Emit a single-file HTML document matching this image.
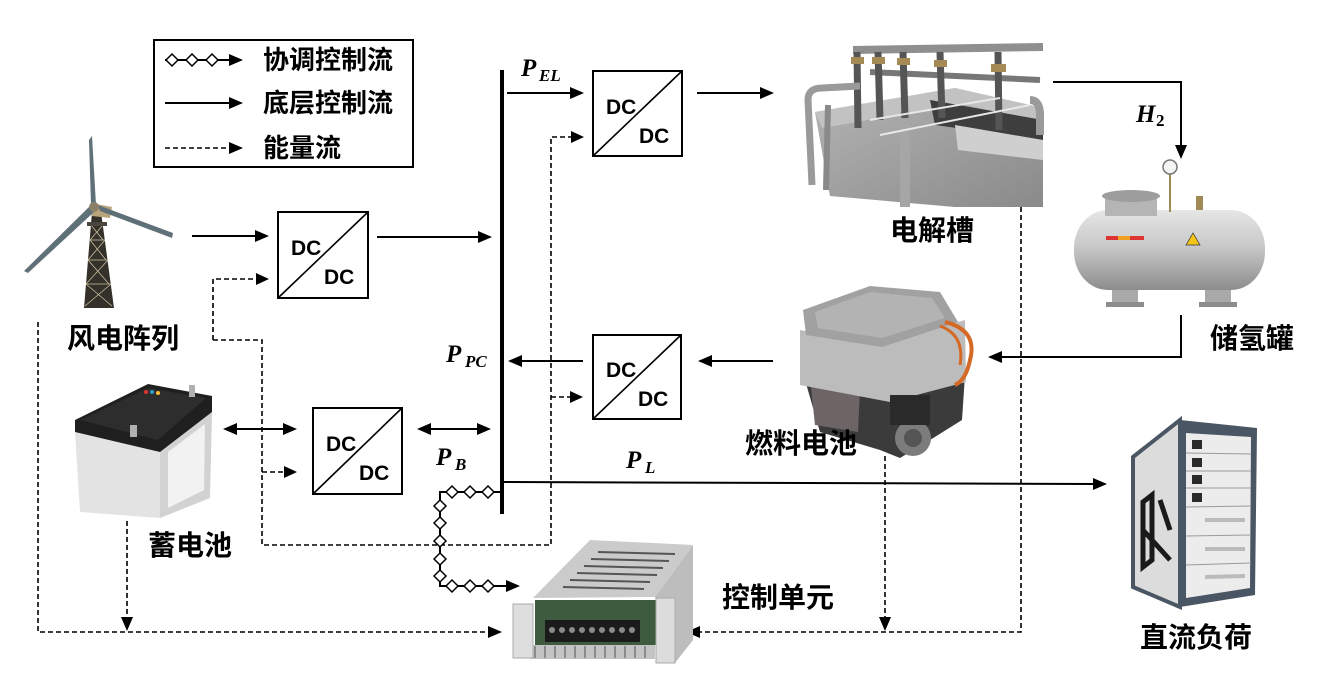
<!DOCTYPE html>
<html><head><meta charset="utf-8">
<style>
html,body{margin:0;padding:0;background:#fff;}
svg{display:block;}
.cj{font-family:"Liberation Sans","Noto Sans CJK SC",sans-serif;font-weight:700;}
.dc{font-family:"Liberation Sans",sans-serif;font-weight:700;font-size:21px;}
.p{font-family:"Liberation Serif",serif;font-weight:700;font-style:italic;}
</style></head><body>
<svg width="1317" height="684" viewBox="0 0 1317 684" xmlns="http://www.w3.org/2000/svg">
<defs>
<linearGradient id="tankg" x1="0" y1="0" x2="0" y2="1">
<stop offset="0" stop-color="#e6e6e6"/><stop offset="0.45" stop-color="#c9c9c9"/><stop offset="1" stop-color="#8c8c8c"/>
</linearGradient>
<linearGradient id="elg" x1="0" y1="0" x2="1" y2="1">
<stop offset="0" stop-color="#b4b4b4"/><stop offset="1" stop-color="#8a8a8a"/>
</linearGradient>
</defs>
<rect width="1317" height="684" fill="#fff"/>

<!-- ===== Legend ===== -->
<rect x="154" y="40" width="259" height="127" fill="none" stroke="#000" stroke-width="2"/>
<line x1="165" y1="60" x2="230" y2="60" stroke="#000" stroke-width="2"/>
<g fill="#fff" stroke="#000" stroke-width="1.5">
<path d="M166,60 L172,54 L178,60 L172,66 Z"/>
<path d="M186,60 L192,54 L198,60 L192,66 Z"/>
<path d="M206,60 L212,54 L218,60 L212,66 Z"/>
</g>
<polygon points="229,54 243,60 229,66" fill="#000"/>
<line x1="165" y1="103" x2="230" y2="103" stroke="#000" stroke-width="2"/>
<polygon points="229,97 243,103 229,109" fill="#000"/>
<line x1="165" y1="148" x2="230" y2="148" stroke="#000" stroke-width="1.6" stroke-dasharray="5,3"/>
<polygon points="229,142 243,148 229,154" fill="#000"/>
<text class="cj" x="263" y="69" font-size="26">协调控制流</text>
<text class="cj" x="263" y="112" font-size="26">底层控制流</text>
<text class="cj" x="263" y="157" font-size="26">能量流</text>

<!-- ===== Wind turbine ===== -->
<g>
<polygon points="92,212 101,212 114,308 84,308" fill="#34302a"/>
<g stroke="#cbbf9f" stroke-width="0.8">
<line x1="91" y1="225" x2="103" y2="240"/><line x1="103" y1="225" x2="90" y2="240"/>
<line x1="90" y1="240" x2="106" y2="260"/><line x1="105" y1="240" x2="88" y2="260"/>
<line x1="88" y1="260" x2="109" y2="284"/><line x1="108" y1="260" x2="86" y2="284"/>
<line x1="86" y1="284" x2="112" y2="306"/><line x1="111" y1="284" x2="85" y2="306"/>
<line x1="90" y1="240" x2="105" y2="240"/><line x1="88" y1="260" x2="108" y2="260"/><line x1="86" y1="284" x2="111" y2="284"/>
</g>
<rect x="87" y="222" width="20" height="4" fill="#4a463e"/>
<polygon points="91,203 112,207 110,218 92,216" fill="#b9a57a"/>
<polygon points="91,205 89,140 92,136 96,205" fill="#5f7078"/>
<polygon points="90,206 94,212 28,273 24,271" fill="#5f7078"/>
<polygon points="98,205 100,211 172,238 173,233" fill="#5f7078"/>
<circle cx="94" cy="207" r="5" fill="#8a806a"/>
</g>
<text class="cj" x="67" y="348" font-size="28">风电阵列</text>

<!-- ===== Battery ===== -->
<g>
<polygon points="75,432 160,452 160,518 80,512" fill="#e3e3e3"/>
<polygon points="160,452 212,412 210,498 160,518" fill="#d2d2d2"/>
<polygon points="168,452 205,424 204,490 168,508" fill="#f2f2f2"/>
<polygon points="75,420 148,384 212,396 212,412 160,452 75,432" fill="#1f1f1f"/>
<polygon points="80,420 148,388 206,398 158,440" fill="#2d2d2d"/>
<rect x="130" y="425" width="7" height="12" fill="#b0b0b0"/>
<rect x="189" y="385" width="6" height="12" fill="#b0b0b0"/>
<circle cx="146" cy="392" r="2" fill="#d33"/><circle cx="152" cy="392" r="2" fill="#39c"/><circle cx="158" cy="393" r="2" fill="#fb3"/>
</g>
<text class="cj" x="148" y="555" font-size="28">蓄电池</text>

<!-- ===== DC/DC box 1 (wind) ===== -->
<rect x="278" y="212" width="90" height="86" fill="#fff" stroke="#000" stroke-width="2"/>
<line x1="278" y1="298" x2="368" y2="212" stroke="#000" stroke-width="1.6"/>
<text class="dc" x="291" y="255">DC</text>
<text class="dc" x="324" y="284">DC</text>
<line x1="192" y1="236" x2="256" y2="236" stroke="#000" stroke-width="2"/>
<polygon points="255,230 269,236 255,242" fill="#000"/>
<line x1="377" y1="237" x2="480" y2="237" stroke="#000" stroke-width="2"/>
<polygon points="478,231 492,237 478,243" fill="#000"/>

<!-- ===== DC/DC box battery ===== -->
<rect x="313" y="408" width="89" height="86" fill="#fff" stroke="#000" stroke-width="2"/>
<line x1="313" y1="494" x2="402" y2="408" stroke="#000" stroke-width="1.6"/>
<text class="dc" x="326" y="451">DC</text>
<text class="dc" x="359" y="480">DC</text>
<line x1="235" y1="429" x2="285" y2="429" stroke="#000" stroke-width="2"/>
<polygon points="237,423 223,429 237,435" fill="#000"/>
<polygon points="283,423 297,429 283,435" fill="#000"/>
<line x1="429" y1="429" x2="479" y2="429" stroke="#000" stroke-width="2"/>
<polygon points="431,423 417,429 431,435" fill="#000"/>
<polygon points="477,423 491,429 477,435" fill="#000"/>

<!-- ===== DC/DC box EL ===== -->
<rect x="593" y="71" width="89" height="85" fill="#fff" stroke="#000" stroke-width="2"/>
<line x1="593" y1="156" x2="682" y2="71" stroke="#000" stroke-width="1.6"/>
<text class="dc" x="606" y="114">DC</text>
<text class="dc" x="639" y="143">DC</text>
<line x1="507" y1="93" x2="572" y2="93" stroke="#000" stroke-width="2"/>
<polygon points="570,87 584,93 570,99" fill="#000"/>
<line x1="697" y1="93" x2="762" y2="93" stroke="#000" stroke-width="2"/>
<polygon points="760,87 774,93 760,99" fill="#000"/>

<!-- ===== DC/DC box FC ===== -->
<rect x="593" y="335" width="88" height="84" fill="#fff" stroke="#000" stroke-width="2"/>
<line x1="593" y1="419" x2="681" y2="335" stroke="#000" stroke-width="1.6"/>
<text class="dc" x="606" y="377">DC</text>
<text class="dc" x="638" y="406">DC</text>
<line x1="520" y1="361" x2="583" y2="361" stroke="#000" stroke-width="2"/>
<polygon points="522,355 508,361 522,367" fill="#000"/>
<line x1="710" y1="361" x2="773" y2="361" stroke="#000" stroke-width="2"/>
<polygon points="712,355 698,361 712,367" fill="#000"/>

<!-- ===== Bus ===== -->
<line x1="502" y1="70" x2="502" y2="514" stroke="#000" stroke-width="4"/>
<line x1="502" y1="482" x2="1094" y2="484" stroke="#000" stroke-width="2"/>
<polygon points="1093,478 1107,484 1093,490" fill="#000"/>

<!-- ===== P labels ===== -->
<text class="p" x="521" y="76" font-size="25">P</text><text class="p" x="539" y="81" font-size="17">EL</text>
<text class="p" x="446" y="362" font-size="25">P</text><text class="p" x="465" y="367" font-size="17">PC</text>
<text class="p" x="436" y="465" font-size="25">P</text><text class="p" x="455" y="470" font-size="17">B</text>
<text class="p" x="626" y="468" font-size="25">P</text><text class="p" x="645" y="473" font-size="17">L</text>
<text class="p" x="1136" y="122" font-size="25">H</text><text font-family="Liberation Serif,serif" font-weight="700" x="1156" y="126" font-size="17">2</text>

<!-- ===== Energy-flow dashed lines ===== -->
<g fill="none" stroke="#000" stroke-width="1.6" stroke-dasharray="5,3">
<path d="M213,340 L213,279 L256,279"/>
<path d="M213,340 L262,340 L262,545 L551,545 L551,137 L572,137"/>
<path d="M262,472 L285,472"/>
<path d="M551,397 L571,397"/>
<path d="M38,322 L38,632 L488,632"/>
<path d="M127,521 L127,618"/>
<path d="M1021,207 L1021,632 L700,632"/>
<path d="M885,456 L885,618"/>
</g>
<g fill="#000">
<polygon points="256,273 269,279 256,285"/>
<polygon points="284,466 297,472 284,478"/>
<polygon points="571,131 584,137 571,143"/>
<polygon points="570,391 583,397 570,403"/>
<polygon points="488,626 502,632 488,638"/>
<polygon points="121,617 127,631 133,617"/>
<polygon points="700,626 686,632 700,638"/>
<polygon points="879,617 885,631 891,617"/>
</g>

<!-- ===== Coordination control (diamonds) ===== -->
<path d="M502,492 L440,492 L440,586 L508,586" fill="none" stroke="#000" stroke-width="2"/>
<polygon points="506,580 520,586 506,592" fill="#000"/>
<g fill="#fff" stroke="#000" stroke-width="1.5">
<path d="M446,492 L452,486 L458,492 L452,498 Z"/>
<path d="M464,492 L470,486 L476,492 L470,498 Z"/>
<path d="M482,492 L488,486 L494,492 L488,498 Z"/>
<path d="M434,506 L440,500 L446,506 L440,512 Z"/>
<path d="M434,523 L440,517 L446,523 L440,529 Z"/>
<path d="M434,541 L440,535 L446,541 L440,547 Z"/>
<path d="M434,559 L440,553 L446,559 L440,565 Z"/>
<path d="M434,576 L440,570 L446,576 L440,582 Z"/>
<path d="M446,586 L452,580 L458,586 L452,592 Z"/>
<path d="M464,586 L470,580 L476,586 L470,592 Z"/>
<path d="M482,586 L488,580 L494,586 L488,592 Z"/>
</g>

<!-- ===== Electrolyzer ===== -->
<g>
<polygon points="815,112 955,88 1043,108 1043,207 955,207 830,196" fill="url(#elg)"/>
<polygon points="815,112 955,88 1043,108 1043,122 960,104 822,128" fill="#c2c2c2"/>
<polygon points="930,100 1043,120 1043,140 935,125" fill="#3e3e3e"/>
<polygon points="955,125 1043,140 1043,160 958,150" fill="#cfcfcf"/>
<rect x="900" y="112" width="10" height="95" fill="#a6a6a6"/>
<line x1="853" y1="50" x2="1043" y2="47" stroke="#8f8f8f" stroke-width="8"/>
<line x1="870" y1="72" x2="1040" y2="80" stroke="#777" stroke-width="6"/>
<g stroke="#555" stroke-width="7">
<line x1="857" y1="52" x2="858" y2="128"/>
<line x1="878" y1="52" x2="880" y2="120"/>
<line x1="903" y1="52" x2="905" y2="118"/>
<line x1="940" y1="52" x2="942" y2="118"/>
<line x1="998" y1="52" x2="999" y2="130"/>
</g>
<g fill="#a58a55">
<rect x="851" y="57" width="13" height="7"/><rect x="872" y="57" width="13" height="7"/>
<rect x="897" y="58" width="13" height="7"/><rect x="934" y="60" width="13" height="7"/>
<rect x="991" y="64" width="15" height="8"/>
</g>
<path d="M812,185 L808,100 Q808,88 822,88 L860,86" fill="none" stroke="#9a9a9a" stroke-width="7"/>
<path d="M1030,100 Q1040,100 1040,115 L1040,135" fill="none" stroke="#9a9a9a" stroke-width="8"/>
<path d="M828,105 L826,190" fill="none" stroke="#8a8a8a" stroke-width="6"/>
<g stroke="#e8e8e8" stroke-width="2">
<line x1="880" y1="135" x2="1030" y2="105"/><line x1="870" y1="120" x2="1000" y2="98"/>
</g>
</g>
<text class="cj" x="890" y="240" font-size="28">电解槽</text>

<!-- H2 line -->
<path d="M1053,82 L1181,82 L1181,146" fill="none" stroke="#000" stroke-width="2"/>
<polygon points="1175,145 1181,159 1187,145" fill="#000"/>

<!-- ===== Hydrogen tank ===== -->
<g>
<rect x="1112" y="258" width="26" height="48" fill="#a9a9a9"/>
<rect x="1205" y="258" width="26" height="48" fill="#a9a9a9"/>
<rect x="1106" y="302" width="38" height="5" fill="#8c8c8c"/>
<rect x="1199" y="302" width="38" height="5" fill="#8c8c8c"/>
<rect x="1074" y="210" width="191" height="80" rx="34" ry="38" fill="url(#tankg)"/>
<rect x="1105" y="196" width="52" height="20" fill="#b5b5b5"/>
<ellipse cx="1131" cy="196" rx="29" ry="6" fill="#9d9d9d"/>
<line x1="1170" y1="174" x2="1170" y2="212" stroke="#a08a55" stroke-width="2"/>
<circle cx="1170" cy="167" r="7" fill="#f4f4f4" stroke="#777" stroke-width="1.5"/>
<rect x="1196" y="196" width="7" height="14" fill="#a08a55"/>
<rect x="1106" y="236" width="38" height="4" fill="#d33"/>
<rect x="1118" y="236" width="12" height="4" fill="#f0a020"/>
<polygon points="1186,245 1193,233 1200,245" fill="#f2c418" stroke="#333" stroke-width="0.7"/>
</g>
<text class="cj" x="1210" y="348" font-size="28">储氢罐</text>
<path d="M1181,315 L1181,357 L1002,357" fill="none" stroke="#000" stroke-width="2"/>
<polygon points="1002,351 988,357 1002,363" fill="#000"/>

<!-- ===== Fuel cell ===== -->
<g>
<polygon points="805,380 890,400 965,375 962,420 930,440 900,458 880,450 820,432" fill="#3b3b3b"/>
<polygon points="810,378 860,388 858,432 815,425" fill="#6d6565"/>
<polygon points="800,330 880,345 965,320 966,382 890,402 800,385" fill="#bcbcbc"/>
<polygon points="803,310 870,286 940,292 958,322 882,347 806,335" fill="#a1a1a1"/>
<polygon points="815,312 870,292 932,298 945,318 882,338 818,328" fill="#b3b3b3"/>
<path d="M945,322 Q978,330 970,360 Q966,380 955,385" fill="none" stroke="#d46a25" stroke-width="4"/>
<path d="M940,326 Q965,335 960,365" fill="none" stroke="#d46a25" stroke-width="3"/>
<circle cx="913" cy="438" r="18" fill="#7c7c7c"/>
<circle cx="913" cy="438" r="9" fill="#555"/>
<rect x="890" y="395" width="40" height="30" fill="#2a2a2a"/>
</g>
<text class="cj" x="745" y="453" font-size="28">燃料电池</text>

<!-- ===== Control unit ===== -->
<g>
<polygon points="655,597 693,545 693,640 675,663" fill="#bdbdbd"/>
<polygon points="533,598 590,540 693,545 655,597" fill="#cbcbcb"/>
<g stroke="#555" stroke-width="2">
<line x1="570" y1="580" x2="650" y2="582"/><line x1="577" y1="573" x2="657" y2="575"/>
<line x1="584" y1="566" x2="663" y2="568"/><line x1="591" y1="559" x2="669" y2="561"/>
<line x1="598" y1="552" x2="675" y2="554"/><line x1="563" y1="587" x2="644" y2="589"/>
</g>
<rect x="535" y="600" width="122" height="45" fill="#3f5b3f"/>
<rect x="545" y="620" width="95" height="22" fill="#1b1b1b"/>
<g fill="#8a8a8a">
<circle cx="552" cy="630" r="3"/><circle cx="562" cy="630" r="3"/><circle cx="572" cy="630" r="3"/>
<circle cx="582" cy="630" r="3"/><circle cx="592" cy="630" r="3"/><circle cx="602" cy="630" r="3"/>
<circle cx="612" cy="630" r="3"/><circle cx="622" cy="630" r="3"/><circle cx="632" cy="630" r="3"/>
</g>
<rect x="530" y="645" width="125" height="14" fill="#c4c4c4"/>
<g stroke="#777" stroke-width="1.5">
<line x1="535" y1="646" x2="535" y2="658"/><line x1="545" y1="646" x2="545" y2="658"/><line x1="555" y1="646" x2="555" y2="658"/>
<line x1="565" y1="646" x2="565" y2="658"/><line x1="575" y1="646" x2="575" y2="658"/><line x1="585" y1="646" x2="585" y2="658"/>
<line x1="595" y1="646" x2="595" y2="658"/><line x1="605" y1="646" x2="605" y2="658"/><line x1="615" y1="646" x2="615" y2="658"/>
<line x1="625" y1="646" x2="625" y2="658"/><line x1="635" y1="646" x2="635" y2="658"/><line x1="645" y1="646" x2="645" y2="658"/>
</g>
<rect x="513" y="604" width="20" height="54" fill="#dedede" stroke="#aaa" stroke-width="1"/>
<rect x="656" y="598" width="19" height="65" fill="#dcdcdc" stroke="#aaa" stroke-width="1"/>
</g>
<text class="cj" x="722" y="607" font-size="28">控制单元</text>

<!-- ===== DC load rack ===== -->
<g>
<polygon points="1133,457 1180,420 1180,607 1133,587" fill="#dcdcdc" stroke="#4a5663" stroke-width="4"/>
<polygon points="1180,420 1257,428 1255,595 1180,607" fill="#4a5663"/>
<polygon points="1186,433 1251,437 1250,588 1186,598" fill="#ececec"/>
<g fill="#2a2a2a">
<rect x="1192" y="440" width="10" height="9"/><rect x="1192" y="458" width="10" height="9"/>
<rect x="1192" y="475" width="10" height="9"/><rect x="1192" y="493" width="10" height="9"/>
</g>
<g stroke="#9a9a9a" stroke-width="1">
<line x1="1186" y1="453" x2="1251" y2="454"/><line x1="1186" y1="471" x2="1251" y2="471"/>
<line x1="1186" y1="488" x2="1251" y2="488"/><line x1="1186" y1="507" x2="1251" y2="506"/>
<line x1="1186" y1="536" x2="1251" y2="535"/><line x1="1186" y1="565" x2="1251" y2="563"/>
</g>
<g stroke="#bbb" stroke-width="4">
<line x1="1205" y1="520" x2="1245" y2="520"/><line x1="1205" y1="549" x2="1245" y2="549"/><line x1="1205" y1="577" x2="1245" y2="576"/>
</g>
<path d="M1143,502 L1152,495 L1152,560 L1143,567 Z M1160,500 L1170,530 M1143,530 L1170,560" fill="none" stroke="#1a1a1a" stroke-width="5"/>
</g>
<text class="cj" x="1140" y="647" font-size="28">直流负荷</text>
</svg>
</body></html>
